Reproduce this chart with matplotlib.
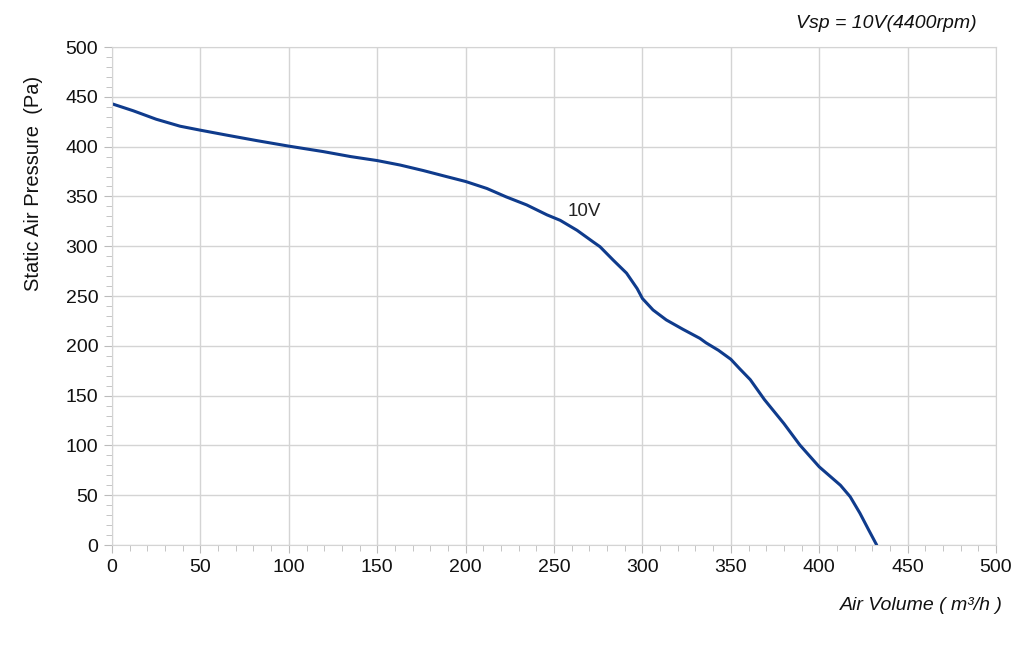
import matplotlib.pyplot as plt
from matplotlib.ticker import MultipleLocator

plt.rcParams['font.family'] = ['Liberation Sans', 'DejaVu Sans']

# curve (m3/h, Pa)
air_volume = [0, 12, 25, 38.5, 50, 65, 82, 100, 119.5, 135, 150, 163, 176, 189,
              200, 212, 223, 234.5, 246, 253.5, 263, 272, 276, 283.5, 291, 297,
              300, 306, 313.5, 323, 332.5, 336, 343, 350, 355, 361, 369, 380,
              389, 400, 412, 417.5, 423, 428, 432.5]
pressure = [443, 436, 427.5, 420.5, 416.5, 411.5, 406, 400.5, 395, 390, 386, 381.5,
            376, 370, 365, 358, 349.5, 341.5, 331.5, 326, 316, 304.5, 299.5, 286,
            273, 257.5, 247.5, 236, 226, 216.5, 207.5, 203, 195.5, 186.5, 177, 166,
            146, 122, 100.5, 78.5, 60, 48.5, 32, 15, 0]

curve_label = "10V"
title_text = "Vsp = 10V(4400rpm)"
x_label = "Air Volume ( m³/h )"
y_label = "Static Air Pressure  (Pa)"

grid_c = "#d4d4d4"
line_c = "#0f3b8c"

fig = plt.figure(figsize=(10.24, 6.46), dpi=100)
ax = fig.add_axes([0.1094, 0.1563, 0.8633, 0.7709])

ax.plot(air_volume, pressure, color=line_c, lw=2.2, solid_joinstyle='round',
        solid_capstyle='round')
ax.text(267, 334.5, curve_label, fontsize=13.5, ha='center', va='center', color='#222222')

ax.set_xlim(0, 500)
ax.set_ylim(0, 500)
ax.xaxis.set_major_locator(MultipleLocator(50))
ax.yaxis.set_major_locator(MultipleLocator(50))
ax.xaxis.set_minor_locator(MultipleLocator(10))
ax.yaxis.set_minor_locator(MultipleLocator(10))
ax.grid(True, which='major', color=grid_c, lw=1.0)
ax.set_axisbelow(True)
for s in ax.spines.values():
    s.set_color(grid_c)
ax.tick_params(which='major', direction='out', length=6, color='#bbbbbb',
               labelsize=14, labelcolor='#111111', pad=4)
ax.tick_params(which='minor', direction='out', length=4, color='#bbbbbb')

ax.set_ylabel(y_label, fontsize=14.5, color='#111111')
ax.yaxis.set_label_coords(-0.078, 0.727)
fig.text(1003 / 1024, 1 - 605 / 646, x_label, fontsize=14, style='italic', ha='right',
         va='center', color='#111111')
fig.text(977 / 1024, 1 - 23 / 646, title_text, fontsize=14, style='italic', ha='right',
         va='center', color='#111111')

fig.savefig("out.png", dpi=100, facecolor='white')
